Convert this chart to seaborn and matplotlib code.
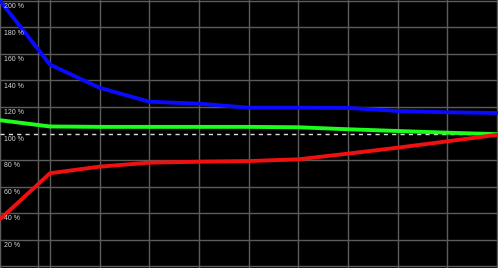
import matplotlib
matplotlib.use("Agg")
import matplotlib.pyplot as plt
import seaborn as sns
import pandas as pd

# data
x_steps = [0, 1, 2, 3, 4, 5, 6, 7, 8, 9, 10]
blue_vals = [200, 152, 134.5, 124, 122.5, 119.5, 119.5, 119.3, 117, 116, 115.5]
green_vals = [110, 105.3, 105, 105, 105, 105, 104.7, 103.2, 101.9, 100.6, 99.5]
red_vals = [35.5, 70, 75, 78, 78.7, 79.2, 80.5, 84.8, 89.3, 94.1, 99]
y_ticks = [20, 40, 60, 80, 100, 120, 140, 160, 180, 200]
y_labels = ["20 %", "40 %", "60 %", "80 %", "100 %", "120 %", "140 %", "160 %", "180 %", "200 %"]
marker_x = 0.75

rows = []
for name, vals in [("blue", blue_vals), ("green", green_vals), ("red", red_vals)]:
    for xv, yv in zip(x_steps, vals):
        rows.append({"x": xv, "y": yv, "series": name})
df = pd.DataFrame(rows)

sns.set_style("dark")
fig = plt.figure(figsize=(4.98, 2.68), dpi=100)
fig.patch.set_facecolor("black")
ax = fig.add_axes([0, 0, 1, 1])
ax.set_facecolor("black")

grid_c = "#5c5c5c"
for yv in [0] + y_ticks:
    if yv == 100:
        continue
    ax.axhline(yv, color=grid_c, lw=1.0, zorder=1)
for xv in x_steps + [marker_x]:
    ax.axvline(xv, color=grid_c, lw=1.0, zorder=1)
ax.axhline(100, color="#dddddd", lw=1.0, ls=(0, (3, 3)), zorder=1)

sns.lineplot(data=df, x="x", y="y", hue="series",
             palette={"blue": "#0a0aff", "green": "#1cff1c", "red": "#f01010"},
             linewidth=2.8, legend=False, ax=ax, zorder=3)

ax.set_xlim(-0.006, 10.02)
ax.set_ylim(-1.5, 200.75)
ax.set_xticks([])
ax.set_yticks([])
ax.set_xlabel("")
ax.set_ylabel("")
for s in ax.spines.values():
    s.set_visible(False)

for yv, lab in zip(y_ticks, y_labels):
    ax.text(0.065, yv - 1.8, lab, color="#d8d8d8", fontsize=5,
            ha="left", va="top", family="Liberation Sans", zorder=4)

fig.savefig("out.png", dpi=100, facecolor="black")
